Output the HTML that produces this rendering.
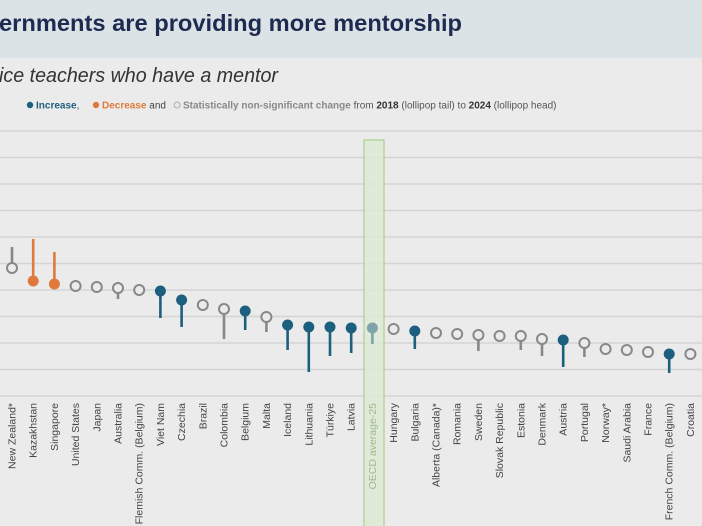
<!DOCTYPE html>
<html><head><meta charset="utf-8"><style>
body{margin:0;width:702px;height:526px;overflow:hidden;background:#ebebeb;font-family:"Liberation Sans",sans-serif}
</style></head><body>
<svg width="702" height="526" xmlns="http://www.w3.org/2000/svg" style="position:absolute;left:0;top:0">
<rect x="0" y="0" width="702" height="58" fill="#dce3e7"/>
<rect x="0" y="58" width="702" height="468" fill="#ebebeb"/>
<text x="-1" y="31" font-size="23" font-weight="bold" fill="#1d2b50" textLength="463" lengthAdjust="spacingAndGlyphs">ernments are providing more mentorship</text>
<text x="-1" y="82" font-size="20" font-style="italic" fill="#333" textLength="279" lengthAdjust="spacingAndGlyphs">ice teachers who have a mentor</text>
<g font-size="10" font-family="Liberation Sans Narrow, Liberation Sans, sans-serif">
<circle cx="30" cy="105" r="3.2" fill="#1d5f7e"/>
<text x="36" y="108.5" fill="#1d5f7e" font-weight="bold">Increase<tspan fill="#444" font-weight="normal">,</tspan></text>
<circle cx="96" cy="105" r="3.2" fill="#e07a3c"/>
<text x="102" y="108.5" fill="#e07a3c" font-weight="bold">Decrease <tspan fill="#444" font-weight="normal">and</tspan></text>
<circle cx="177" cy="105" r="3" fill="none" stroke="#999" stroke-width="0.8"/>
<text x="183" y="108.5" fill="#888" font-weight="bold">Statistically non-significant change <tspan fill="#555" font-weight="normal">from </tspan><tspan fill="#333">2018</tspan><tspan fill="#555" font-weight="normal"> (lollipop tail) to </tspan><tspan fill="#333">2024</tspan><tspan fill="#555" font-weight="normal"> (lollipop head)</tspan></text>
</g>
<g stroke="#d4d4d4" stroke-width="1.5">
<line x1="0" y1="131" x2="702" y2="131"/><line x1="0" y1="157.5" x2="702" y2="157.5"/>
<line x1="0" y1="184" x2="702" y2="184"/><line x1="0" y1="210.5" x2="702" y2="210.5"/>
<line x1="0" y1="237" x2="702" y2="237"/><line x1="0" y1="263.5" x2="702" y2="263.5"/>
<line x1="0" y1="290" x2="702" y2="290"/><line x1="0" y1="316.5" x2="702" y2="316.5"/>
<line x1="0" y1="343" x2="702" y2="343"/><line x1="0" y1="369.5" x2="702" y2="369.5"/>
<line x1="0" y1="396" x2="702" y2="396"/>
</g>
<rect x="364" y="140" width="20" height="390" fill="#dcebd3" fill-opacity="0.8" stroke="#a9d08e" stroke-width="1.2"/>
<g stroke-width="2.6">
<line x1="12" y1="247" x2="12" y2="268" stroke="#888"/>
<line x1="33.2" y1="239" x2="33.2" y2="281" stroke="#e07a3c"/>
<line x1="54.4" y1="252" x2="54.4" y2="284" stroke="#e07a3c"/>
<line x1="118" y1="288" x2="118" y2="299" stroke="#888"/>
<line x1="160.4" y1="291" x2="160.4" y2="318" stroke="#1d5f7e"/>
<line x1="181.6" y1="300" x2="181.6" y2="327" stroke="#1d5f7e"/>
<line x1="224" y1="309" x2="224" y2="339" stroke="#888"/>
<line x1="245.2" y1="311" x2="245.2" y2="330" stroke="#1d5f7e"/>
<line x1="266.4" y1="317" x2="266.4" y2="332" stroke="#888"/>
<line x1="287.6" y1="325" x2="287.6" y2="350" stroke="#1d5f7e"/>
<line x1="308.8" y1="327" x2="308.8" y2="372" stroke="#1d5f7e"/>
<line x1="330" y1="327" x2="330" y2="356" stroke="#1d5f7e"/>
<line x1="351.2" y1="328" x2="351.2" y2="353" stroke="#1d5f7e"/>
<line x1="372.4" y1="328" x2="372.4" y2="344" stroke="#7fa3ab"/>
<line x1="414.8" y1="331" x2="414.8" y2="349" stroke="#1d5f7e"/>
<line x1="478.4" y1="335" x2="478.4" y2="351" stroke="#888"/>
<line x1="520.8" y1="336" x2="520.8" y2="350" stroke="#888"/>
<line x1="542" y1="339" x2="542" y2="356" stroke="#888"/>
<line x1="563.2" y1="340" x2="563.2" y2="367" stroke="#1d5f7e"/>
<line x1="584.4" y1="343" x2="584.4" y2="357" stroke="#888"/>
<line x1="669.2" y1="354" x2="669.2" y2="373" stroke="#1d5f7e"/>
</g>
<g fill="#ebebeb" stroke="#888" stroke-width="2">
<circle cx="12" cy="268" r="5"/><circle cx="75.6" cy="286" r="5"/><circle cx="96.8" cy="287" r="5"/>
<circle cx="118" cy="288" r="5"/><circle cx="139.2" cy="290" r="5"/><circle cx="202.8" cy="305" r="5"/>
<circle cx="224" cy="309" r="5"/><circle cx="266.4" cy="317" r="5"/><circle cx="393.6" cy="329" r="5"/>
<circle cx="436" cy="333" r="5"/><circle cx="457.2" cy="334" r="5"/><circle cx="478.4" cy="335" r="5"/>
<circle cx="499.6" cy="336" r="5"/><circle cx="520.8" cy="336" r="5"/><circle cx="542" cy="339" r="5"/>
<circle cx="584.4" cy="343" r="5"/><circle cx="605.6" cy="349" r="5"/><circle cx="626.8" cy="350" r="5"/>
<circle cx="648" cy="352" r="5"/><circle cx="690.4" cy="354" r="5"/>
</g>
<g fill="#e07a3c"><circle cx="33.2" cy="281" r="5.5"/><circle cx="54.4" cy="284" r="5.5"/></g>
<g fill="#1d5f7e">
<circle cx="160.4" cy="291" r="5.5"/><circle cx="181.6" cy="300" r="5.5"/><circle cx="245.2" cy="311" r="5.5"/>
<circle cx="287.6" cy="325" r="5.5"/><circle cx="308.8" cy="327" r="5.5"/><circle cx="330" cy="327" r="5.5"/>
<circle cx="351.2" cy="328" r="5.5"/><circle cx="414.8" cy="331" r="5.5"/><circle cx="563.2" cy="340" r="5.5"/>
<circle cx="669.2" cy="354" r="5.5"/>
</g>
<circle cx="372.4" cy="328" r="5.5" fill="#7fa3ab"/>
<g font-size="10.5" fill="#444" text-anchor="end">
<text transform="translate(15.5,403) rotate(-90)">New Zealand*</text>
<text transform="translate(36.7,403) rotate(-90)">Kazakhstan</text>
<text transform="translate(57.9,403) rotate(-90)">Singapore</text>
<text transform="translate(79.1,403) rotate(-90)">United States</text>
<text transform="translate(100.3,403) rotate(-90)">Japan</text>
<text transform="translate(121.5,403) rotate(-90)">Australia</text>
<text transform="translate(142.7,403) rotate(-90)">Flemish Comm. (Belgium)</text>
<text transform="translate(163.9,403) rotate(-90)">Viet Nam</text>
<text transform="translate(185.1,403) rotate(-90)">Czechia</text>
<text transform="translate(206.3,403) rotate(-90)">Brazil</text>
<text transform="translate(227.5,403) rotate(-90)">Colombia</text>
<text transform="translate(248.7,403) rotate(-90)">Belgium</text>
<text transform="translate(269.9,403) rotate(-90)">Malta</text>
<text transform="translate(291.1,403) rotate(-90)">Iceland</text>
<text transform="translate(312.3,403) rotate(-90)">Lithuania</text>
<text transform="translate(333.5,403) rotate(-90)">Türkiye</text>
<text transform="translate(354.7,403) rotate(-90)">Latvia</text>
<text transform="translate(375.9,403) rotate(-90)" fill="#9fb88f">OECD average-25</text>
<text transform="translate(397.1,403) rotate(-90)">Hungary</text>
<text transform="translate(418.3,403) rotate(-90)">Bulgaria</text>
<text transform="translate(439.5,403) rotate(-90)">Alberta (Canada)*</text>
<text transform="translate(460.7,403) rotate(-90)">Romania</text>
<text transform="translate(481.9,403) rotate(-90)">Sweden</text>
<text transform="translate(503.1,403) rotate(-90)">Slovak Republic</text>
<text transform="translate(524.3,403) rotate(-90)">Estonia</text>
<text transform="translate(545.5,403) rotate(-90)">Denmark</text>
<text transform="translate(566.7,403) rotate(-90)">Austria</text>
<text transform="translate(587.9,403) rotate(-90)">Portugal</text>
<text transform="translate(609.1,403) rotate(-90)">Norway*</text>
<text transform="translate(630.3,403) rotate(-90)">Saudi Arabia</text>
<text transform="translate(651.5,403) rotate(-90)">France</text>
<text transform="translate(672.7,403) rotate(-90)">French Comm. (Belgium)</text>
<text transform="translate(693.9,403) rotate(-90)">Croatia</text>
</g>
</svg>
</body></html>
